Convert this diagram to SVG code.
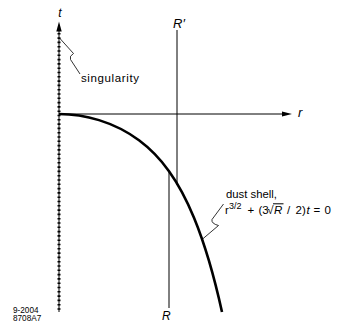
<svg xmlns="http://www.w3.org/2000/svg" width="340" height="322" viewBox="0 0 340 322">
<style>
.ax{stroke:#000;stroke-width:1;fill:none}
.dots{stroke:#000;stroke-width:3;stroke-dasharray:1.6 2.7;fill:none}
.head{fill:#000;stroke:none}
.shell{stroke:#000;stroke-width:2.6;fill:none;stroke-linecap:butt}
.lead{stroke:#000;stroke-width:0.8;fill:none;stroke-linejoin:round}
text{font-family:"Liberation Sans",Arial,sans-serif;fill:#000}
.it{font-style:italic}
</style>
<rect width="340" height="322" fill="#fff"/>
<g id="t-axis">
<line class="ax" x1="59" y1="30" x2="59" y2="312"/>
<line class="dots" x1="59" y1="33" x2="59" y2="312"/>
<polygon class="head" points="59,21.5 56.3,31.5 61.7,31.5"/>
<text class="it" x="60" y="17" font-size="12" text-anchor="middle">t</text>
</g>
<g id="r-axis">
<line class="ax" x1="59" y1="114" x2="284" y2="114"/>
<polygon class="head" points="292,114 282,111.4 282,116.6"/>
<text class="it" x="298" y="117" font-size="13">r</text>
</g>
<g id="R-prime-line">
<line class="ax" x1="177" y1="30" x2="177" y2="185"/>
<text class="it" x="173" y="28" font-size="13">R′</text>
</g>
<g id="R-line">
<line class="ax" x1="169" y1="172" x2="169" y2="308"/>
<text class="it" x="162" y="319.5" font-size="12">R</text>
</g>
<g id="dust-shell">
<path class="shell" d="M59,114 C72.33,114 85.67,116 99,120.12 C112.33,124.25 125.67,130.38 139,140.26 C149,147.67 159,157.21 169,171.14 C177.33,182.75 185.67,197.44 194,217.66 C199,229.8 204,243.950 209,260.9 C213.33,275.59 217.67,292.42 222,311.96"/>
</g>
<g id="connectors">
<path class="lead" d="M59.5,38 L73.5,53.5 Q69,56 70.5,59.5 L80,74"/>
<path class="lead" d="M202,239.5 L218.5,225.5 Q211,223.5 212,219.5 L223.5,204"/>
</g>
<g id="singularity-label">
<text x="81" y="81.5" font-size="11.5" textLength="58" lengthAdjust="spacing">singularity</text>
</g>
<g id="dust-shell-label">
<text x="226" y="198" font-size="11.3">dust shell,</text>
<text font-size="11.5" y="214"><tspan x="225">r</tspan><tspan x="229" y="209" font-size="9">3/2</tspan><tspan x="247.5" y="214">+</tspan><tspan x="258.5">(3</tspan><tspan x="267.3">√</tspan><tspan x="274" class="it">R</tspan><tspan x="287">/</tspan><tspan x="295.5">2)</tspan><tspan x="306.5" class="it">t</tspan><tspan x="313.5">=</tspan><tspan x="324.5">0</tspan></text>
<line class="ax" x1="273" y1="203.8" x2="283.5" y2="203.8" stroke-width="0.8"/>
</g>
<g id="figure-code">
<text x="13" y="313" font-size="8.2">9-2004</text>
<text x="13" y="321" font-size="8.2">8708A7</text>
</g>
</svg>
